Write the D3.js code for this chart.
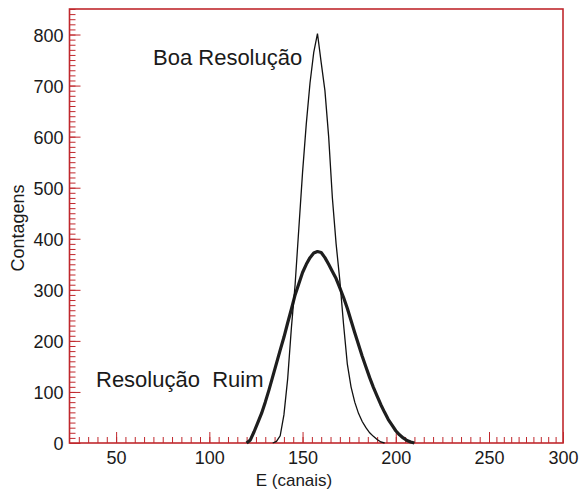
<!DOCTYPE html>
<html>
<head>
<meta charset="utf-8">
<script src="https://cdn.jsdelivr.net/npm/d3@7"></script>
<style>
  body { margin: 0; background: #fff; }
  svg text { font-family: "Liberation Sans", Arial, sans-serif; fill: #1a1a1a; }
</style>
</head>
<body>
<svg id="chart" width="579" height="492"></svg>
<script>
// channel numbers and counts
var chanGood = [134,136,138,140,142,144,146,148,150,152,154,156,158,160,162,164,166,168,170,172,174,176,178,180,182,184,186,188,190,192,194];
var countGood = [0,3,14,55,125,225,310,420,530,625,705,765,802,745,690,600,480,390,318,232,155,110,80,58,42,30,20,13,7,2,0];

var chanBad = [120,122,124,126,128,130,132,134,136,138,140,142,144,146,148,150,152,154,156,158,160,162,164,166,168,170,172,174,176,178,180,182,184,186,188,190,192,194,196,198,200,202,204,206,208,210];
var countBad = [0,6,22,40,58,80,104,130,156,182,207,235,262,290,312,334,350,363,372,375,373,363,350,336,322,304,285,264,240,216,193,170,149,128,109,92,75,60,46,35,24,16,10,5,2,0];

var xTicks = [50,100,150,200,250,300];
var yTicks = [0,100,200,300,400,500,600,700,800];

var red = "#c0282d";
var svg = d3.select("#chart");

// the source figure squeezes the last 50 channels, so the scale is piecewise
var x = d3.scaleLinear().domain([25, 250, 300]).range([69.5, 489, 563]);
var y = d3.scaleLinear().domain([0, 850]).range([443, 9]);

// minor ticks (inside the frame)
svg.append("g")
  .attr("transform", "translate(0,443)")
  .call(d3.axisBottom(x).tickValues(d3.range(30, 300, 5)).tickSize(-6).tickSizeOuter(0).tickFormat(""))
  .call(function(g) { g.select(".domain").remove(); g.selectAll("line").attr("stroke", red); });

svg.append("g")
  .attr("transform", "translate(69.5,0)")
  .call(d3.axisLeft(y).tickValues(d3.range(10, 851, 10)).tickSize(-6).tickSizeOuter(0).tickFormat(""))
  .call(function(g) { g.select(".domain").remove(); g.selectAll("line").attr("stroke", red); });

// major ticks with labels
svg.append("g")
  .attr("transform", "translate(0,443)")
  .call(d3.axisBottom(x).tickValues(xTicks).tickSize(-11).tickSizeOuter(0).tickPadding(8))
  .call(function(g) {
    g.select(".domain").remove();
    g.selectAll("line").attr("stroke", red);
    g.selectAll("text").style("font-size", "18px").attr("dy", "0.72em");
  });

svg.append("g")
  .attr("transform", "translate(69.5,0)")
  .call(d3.axisLeft(y).tickValues(yTicks).tickSize(-11).tickSizeOuter(0).tickPadding(6))
  .call(function(g) {
    g.select(".domain").remove();
    g.selectAll("line").attr("stroke", red);
    g.selectAll("text").style("font-size", "18px").attr("dy", "0.36em");
  });

// frame
svg.append("rect")
  .attr("x", x(25)).attr("y", y(850))
  .attr("width", x(300) - x(25)).attr("height", y(0) - y(850))
  .attr("fill", "none").attr("stroke", red).attr("stroke-width", 1.6);

var line = d3.line()
  .x(function(d) { return x(d[0]); })
  .y(function(d) { return y(d[1]); });

svg.append("path")
  .datum(d3.zip(chanBad, countBad))
  .attr("d", line)
  .attr("fill", "none").attr("stroke", "#1e1e1e").attr("stroke-width", 3.2)
  .attr("stroke-linejoin", "round");

svg.append("path")
  .datum(d3.zip(chanGood, countGood))
  .attr("d", line)
  .attr("fill", "none").attr("stroke", "#111").attr("stroke-width", 1.3);

// labels
svg.append("text").attr("x", 153).attr("y", 65).style("font-size", "22px").text("Boa Resolução");
svg.append("text").attr("x", 96).attr("y", 387).style("font-size", "22px").attr("xml:space", "preserve").text("Resolução  Ruim");

svg.append("text")
  .attr("x", 294).attr("y", 486)
  .attr("text-anchor", "middle").style("font-size", "17px")
  .text("E (canais)");

svg.append("text")
  .attr("transform", "translate(24,228) rotate(-90)")
  .attr("text-anchor", "middle").style("font-size", "18px")
  .text("Contagens");
</script>
</body>
</html>
